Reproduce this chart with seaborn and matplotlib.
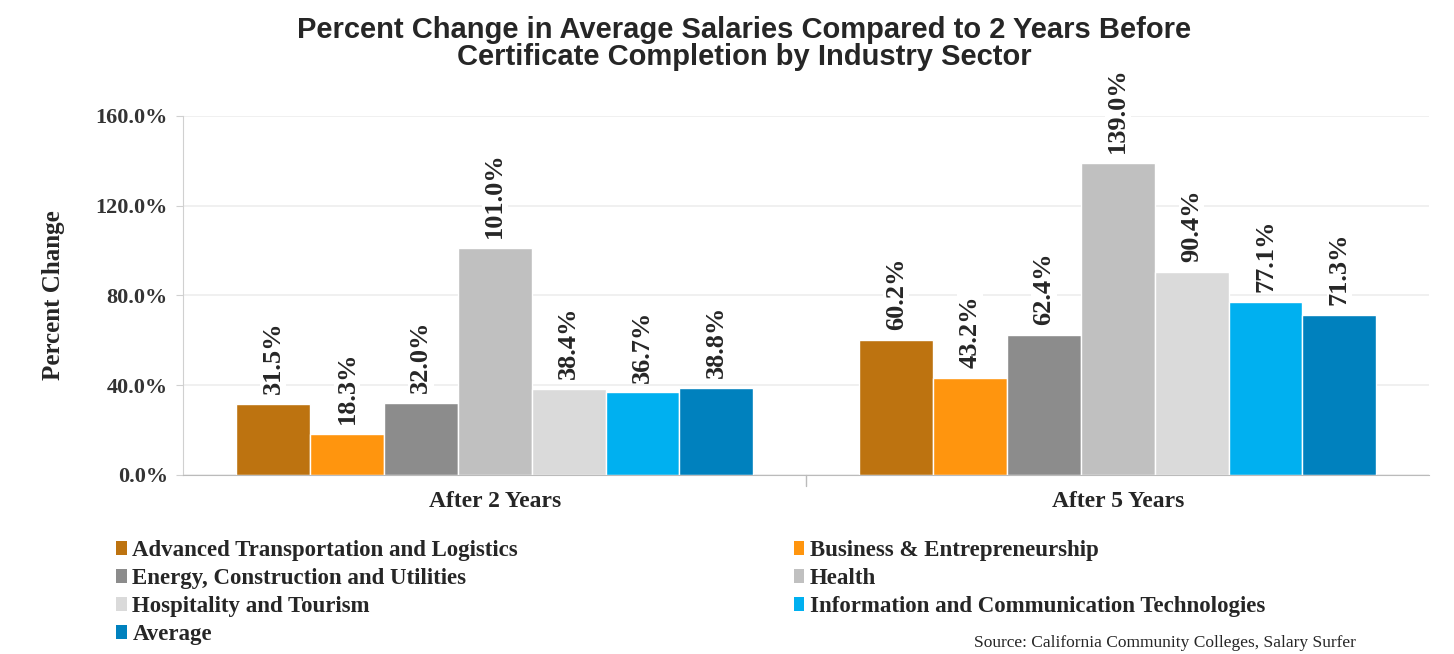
import pandas as pd
import numpy as np
import matplotlib.pyplot as plt
import seaborn as sns
from matplotlib.patches import Patch

periods = ["After 2 Years", "After 5 Years"]
sectors = ["Advanced Transportation and Logistics", "Business & Entrepreneurship",
           "Energy, Construction and Utilities", "Health", "Hospitality and Tourism",
           "Information and Communication Technologies", "Average"]
after_2 = [31.5, 18.3, 32.0, 101.0, 38.4, 36.7, 38.8]
after_5 = [60.2, 43.2, 62.4, 139.0, 90.4, 77.1, 71.3]
colors = ["#BD7310", "#FF950E", "#8C8C8C", "#C0C0C0", "#DADADA", "#00B0F0", "#0081BE"]

data = pd.DataFrame({
    "period": [periods[0]] * 7 + [periods[1]] * 7,
    "sector": sectors * 2,
    "value": after_2 + after_5,
})

sns.set_style("white")
serif = ["Liberation Serif", "DejaVu Serif"]

fig = plt.figure(figsize=(14.54, 6.54), dpi=100)
ax = fig.add_axes([0.126, 0.274, 0.857, 0.549])

sns.barplot(data=data, x="period", y="value", hue="sector", hue_order=sectors,
            palette=colors, width=0.83, gap=0, saturation=1, ax=ax, legend=False)

for c in ax.containers:
    ax.bar_label(c, labels=[f"{v:.1f}%" for v in c.datavalues], rotation=90,
                 padding=7, fontsize=19, fontweight="bold", family=serif,
                 clip_on=False,
                 bbox=dict(facecolor="white", edgecolor="none", pad=1))

ax.set_ylim(0, 160)
ax.set_yticks([0, 40, 80, 120, 160])
ax.set_yticklabels([f"{t:.1f}%" for t in [0, 40, 80, 120, 160]],
                   family=serif, fontweight="bold", fontsize=16, color="#333333")
ax.set_xticks([0, 1])
ax.set_xticklabels(periods, family=serif, fontweight="bold", fontsize=17)
ax.set_xlabel("")
ax.set_ylabel("Percent Change", family=serif, fontweight="bold", fontsize=18, labelpad=22)
ax.set_xlim(-0.5, 1.5)
ax.yaxis.grid(True, color="#EEEEEE", linewidth=1.2)
ax.set_axisbelow(True)
for s in ["top", "right"]:
    ax.spines[s].set_visible(False)
ax.spines["left"].set_color("#D0D0D0")
ax.spines["bottom"].set_color("#BBBBBB")
ax.tick_params(axis="y", length=5, color="#D0D0D0", left=True, pad=6)
ax.tick_params(axis="x", length=0, pad=12)
ax.axvline(0.5, ymin=-0.03, ymax=0, color="#BBBBBB", linewidth=1, clip_on=False)

fig.text(0.512, 0.934, "Percent Change in Average Salaries Compared to 2 Years Before\nCertificate Completion by Industry Sector",
         ha="center", va="center", fontsize=21, fontweight="bold",
         family="Liberation Sans", linespacing=0.95)

def make_legend(idx, x):
    handles = [Patch(facecolor=colors[i], edgecolor="none") for i in idx]
    labels = [sectors[i] for i in idx]
    fig.legend(handles, labels, loc="upper left", bbox_to_anchor=(x, 0.174),
               frameon=False, handlelength=0.45, handleheight=0.55,
               handletextpad=0.25, labelspacing=0.3, borderaxespad=0, borderpad=0,
               prop=dict(family=serif, weight="bold", size=16.5))

make_legend([0, 2, 4, 6], 0.08)
make_legend([1, 3, 5], 0.546)

fig.text(0.67, 0.004, "Source: California Community Colleges, Salary Surfer",
         ha="left", va="bottom", fontsize=12.5, family=serif)

plt.savefig("out.png", dpi=100)
